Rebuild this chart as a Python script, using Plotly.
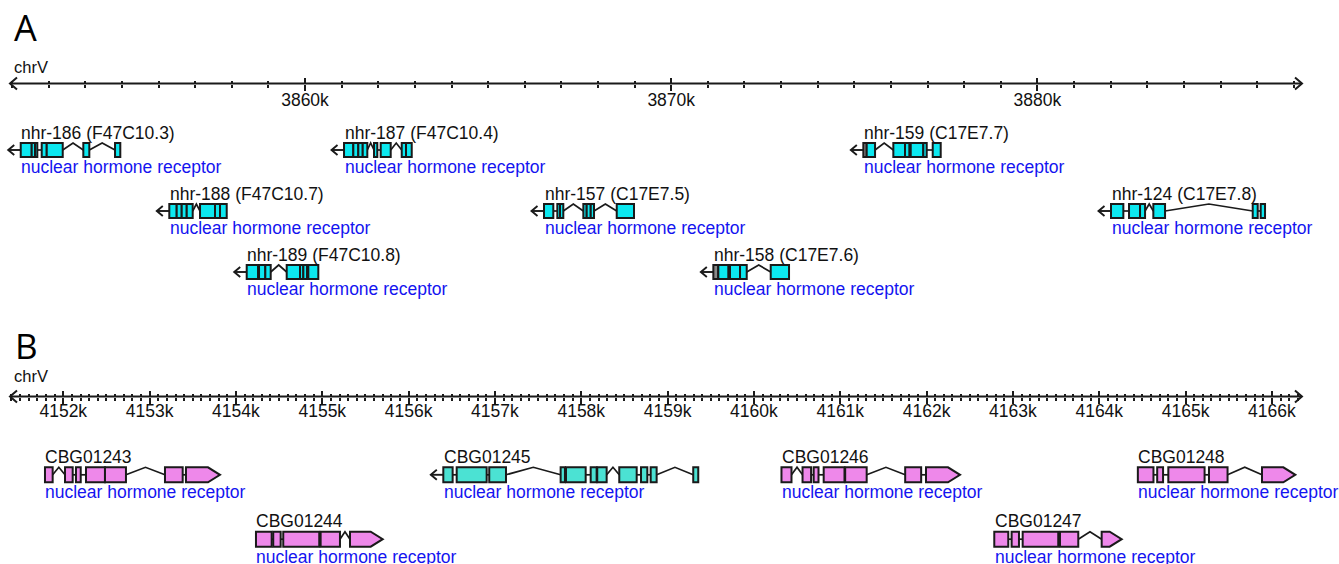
import numpy as np
import plotly.graph_objects as go

W, H = 1339, 564

# ======================= DATA =======================
# Panel A : chrV 3.85-3.89 Mb
A_region = [3851944, 3887225]
A_major_ticks = [3860000, 3870000, 3880000]
A_tick_labels = ["3860k", "3870k", "3880k"]
A_minor_step = 1000

nhr186_exons = [(3852237, 3852537), (3852537, 3852627), (3852627, 3852690), (3852810, 3852947),
                (3852947, 3853384), (3853946, 3854110), (3854812, 3854956)]
nhr187_exons = [(3861065, 3861319), (3861319, 3861455), (3861455, 3861576), (3861576, 3861701),
                (3861884, 3861974), (3862067, 3862340), (3862641, 3862758), (3862758, 3862914)]
nhr188_exons = [(3856294, 3856496), (3856496, 3856633), (3856633, 3856770), (3856770, 3856933),
                (3857133, 3857542), (3857542, 3857679), (3857679, 3857862)]
nhr189_exons = [(3858408, 3858717), (3858744, 3858916), (3858916, 3859063), (3859500, 3859863),
                (3859863, 3859954), (3859954, 3860055), (3860090, 3860363)]
nhr157_exons = [(3866526, 3866780), (3866890, 3866963), (3866963, 3867053), (3867600, 3867692),
                (3867692, 3867802), (3867802, 3867892), (3868512, 3868984)]
nhr158_exons = [(3871286, 3871559), (3871605, 3871879), (3871879, 3872062), (3872717, 3873217)]
nhr158_utr = [(3871150, 3871286)]
nhr159_exons = [(3875338, 3875566), (3876065, 3876384), (3876384, 3876502), (3876540, 3876884),
                (3876884, 3876977), (3877141, 3877359)]
nhr159_utr = [(3875246, 3875338)]
nhr124_exons = [(3882009, 3882346), (3882501, 3882802), (3882802, 3882939), (3883165, 3883485),
                (3885879, 3886015), (3886097, 3886215)]

A_names = ["nhr-186 (F47C10.3)", "nhr-187 (F47C10.4)", "nhr-159 (C17E7.7)",
           "nhr-188 (F47C10.7)", "nhr-157 (C17E7.5)", "nhr-124 (C17E7.8)",
           "nhr-189 (F47C10.8)", "nhr-158 (C17E7.6)"]
A_exons = [nhr186_exons, nhr187_exons, nhr159_exons, nhr188_exons, nhr157_exons,
           nhr124_exons, nhr189_exons, nhr158_exons]
A_utrs = [[], [], nhr159_utr, [], [], [], [], nhr158_utr]
A_rows = [0, 0, 0, 1, 1, 1, 2, 2]
A_strands = ["-", "-", "-", "-", "-", "-", "-", "-"]
A_desc = ["nuclear hormone receptor"] * 8

# Panel B : chrV 4.151-4.167 Mb
B_region = [4151383, 4166348]
B_major_ticks = [4152000, 4153000, 4154000, 4155000, 4156000, 4157000, 4158000, 4159000,
                 4160000, 4161000, 4162000, 4163000, 4164000, 4165000, 4166000]
B_tick_labels = ["4152k", "4153k", "4154k", "4155k", "4156k", "4157k", "4158k", "4159k",
                 "4160k", "4161k", "4162k", "4163k", "4164k", "4165k", "4166k"]
B_minor_step = 100

CBG01243_exons = [(4151788, 4151877), (4152020, 4152109), (4152147, 4152202), (4152263, 4152483),
                  (4152483, 4152726), (4153178, 4153383), (4153421, 4153815)]
CBG01244_exons = [(4154232, 4154414), (4154432, 4154518), (4154548, 4154965), (4154981, 4155205),
                  (4155321, 4155700)]
CBG01245_exons = [(4156402, 4156510), (4156557, 4156904), (4156934, 4157128), (4157761, 4157811),
                  (4157823, 4158051), (4158109, 4158178), (4158185, 4158294), (4158440, 4158642),
                  (4158692, 4158765), (4158804, 4158873), (4159297, 4159355)]
CBG01246_exons = [(4160319, 4160435), (4160563, 4160662), (4160692, 4160748), (4160808, 4161049),
                  (4161057, 4161306), (4161752, 4161937), (4161993, 4162387)]
CBG01247_exons = [(4162784, 4162946), (4162985, 4163070), (4163113, 4163525), (4163545, 4163757),
                  (4164028, 4164260)]
CBG01248_exons = [(4164447, 4164628), (4164671, 4164739), (4164800, 4165220), (4165271, 4165486),
                  (4165885, 4166271)]

B_names = ["CBG01243", "CBG01245", "CBG01246", "CBG01248", "CBG01244", "CBG01247"]
B_exons = [CBG01243_exons, CBG01245_exons, CBG01246_exons, CBG01248_exons,
           CBG01244_exons, CBG01247_exons]
B_utrs = [[], [], [], [], [], []]
B_rows = [0, 0, 0, 0, 1, 1]
B_strands = ["+", "-", "+", "+", "+", "+"]
B_desc = ["nuclear hormone receptor"] * 6

# ======================= STYLE / LAYOUT =======================
FONT = "Liberation Sans, Arial, Helvetica, sans-serif"
CYAN = "#0CE8F0"
GRAY = "#8a8a8a"
VIOLET = "#EE88EA"
TURQ = "#4BE2D3"
OUTLINE = "#1a1a1a"
A_colors = [CYAN] * 8
B_colors = [VIOLET, TURQ, VIOLET, VIOLET, VIOLET, VIOLET]

A_view = [3851671, 3888235]      # data values at pixel 0 and pixel W
B_view = [4151267, 4166777]
A_axis_px, B_axis_px = 83.5, 396.5
A_label_px, B_label_px = 87.0, 398.0
A_row0_px, A_row_gap = 150.0, 61.0
B_row0_px, B_row_gap = 474.8, 64.4
HAT_MIN_PX = 6.5
ARROW_PX = 12.5
POINT_PX = 12

shapes = []
annotations = []


def panel_cfg(view, row0, gap, xref, yref, box_h, name_shift, desc_shift):
    return dict(bpp=(view[1] - view[0]) / W, ypp=1.0 / gap, xref=xref, yref=yref,
                box_h=box_h, name_shift=name_shift, desc_shift=desc_shift)


PA = panel_cfg(A_view, A_row0_px, A_row_gap, "x", "y", 14, 17, -16.5)
PB = panel_cfg(B_view, B_row0_px, B_row_gap, "x2", "y2", 15, 18, -17.5)


def add_line(P, x0, y0, x1, y1, w=1.6):
    shapes.append(dict(type="line", xref=P["xref"], yref=P["yref"], x0=x0, y0=y0, x1=x1, y1=y1,
                       line=dict(color=OUTLINE, width=w), layer="above"))


def draw_gene(P, exons, utrs, row, strand, color, name, desc):
    segs = sorted([(s, e, color) for s, e in exons] + [(s, e, GRAY) for s, e in utrs])
    half = P["box_h"] / 2 * P["ypp"]
    top, bot = row - half, row + half
    # connectors (hat for visible introns, flat for tiny ones)
    for (s1, e1, _), (s2, e2, _) in zip(segs, segs[1:]):
        g = s2 - e1
        if g <= 0:
            continue
        if g / P["bpp"] > HAT_MIN_PX:
            shapes.append(dict(type="path", xref=P["xref"], yref=P["yref"],
                               path=f"M{e1},{row} L{(e1 + s2) / 2},{top} L{s2},{row}",
                               line=dict(color=OUTLINE, width=1.7), layer="above"))
        else:
            add_line(P, e1, row, s2, row, 1.7)
    # strand arrow for minus genes
    if strand == "-":
        start = segs[0][0]
        tip = start - ARROW_PX * P["bpp"]
        add_line(P, tip, row, start, row, 1.9)
        hx = tip + 6 * P["bpp"]
        hy = 5 * P["ypp"]
        shapes.append(dict(type="path", xref=P["xref"], yref=P["yref"],
                           path=f"M{hx},{row - hy} L{tip},{row} L{hx},{row + hy}",
                           line=dict(color=OUTLINE, width=1.9), layer="above"))
    # exon boxes
    for i, (s, e, c) in enumerate(segs):
        if strand == "+" and i == len(segs) - 1:
            p = min(POINT_PX * P["bpp"], (e - s))
            path = f"M{s},{top} L{e - p},{top} L{e},{row} L{e - p},{bot} L{s},{bot} Z"
            shapes.append(dict(type="path", xref=P["xref"], yref=P["yref"], path=path,
                               fillcolor=c, line=dict(color=OUTLINE, width=2), layer="above"))
        else:
            shapes.append(dict(type="rect", xref=P["xref"], yref=P["yref"], x0=s, x1=e,
                               y0=top, y1=bot, fillcolor=c,
                               line=dict(color=OUTLINE, width=2), layer="above"))
    x0 = segs[0][0]
    annotations.append(dict(x=x0, y=row, xref=P["xref"], yref=P["yref"], text=name,
                            showarrow=False, xanchor="left", yanchor="middle",
                            yshift=P["name_shift"], xshift=-1.5,
                            font=dict(family=FONT, size=17.5, color="#111111")))
    annotations.append(dict(x=x0, y=row, xref=P["xref"], yref=P["yref"], text=desc,
                            showarrow=False, xanchor="left", yanchor="middle",
                            yshift=P["desc_shift"], xshift=-1.5,
                            font=dict(family=FONT, size=17.5, color="#1414F0")))


for i in range(len(A_names)):
    draw_gene(PA, A_exons[i], A_utrs[i], A_rows[i], A_strands[i], A_colors[i], A_names[i], A_desc[i])
for i in range(len(B_names)):
    draw_gene(PB, B_exons[i], B_utrs[i], B_rows[i], B_strands[i], B_colors[i], B_names[i], B_desc[i])


# coordinate axis lines with arrowheads at both ends
def axis_line(xref, region, bpp, pos_px):
    yp = 1 - pos_px / H
    shapes.append(dict(type="line", xref=xref, yref="paper", x0=region[0], x1=region[1],
                       y0=yp, y1=yp, line=dict(color=OUTLINE, width=2)))
    dx = 7 * bpp
    dy = 6 / H
    shapes.append(dict(type="path", xref=xref, yref="paper",
                       path=f"M{region[0] + dx},{yp + dy} L{region[0]},{yp} L{region[0] + dx},{yp - dy}",
                       line=dict(color=OUTLINE, width=2)))
    shapes.append(dict(type="path", xref=xref, yref="paper",
                       path=f"M{region[1] - dx},{yp + dy} L{region[1]},{yp} L{region[1] - dx},{yp - dy}",
                       line=dict(color=OUTLINE, width=2)))


axis_line("x", A_region, PA["bpp"], A_axis_px)
axis_line("x2", B_region, PB["bpp"], B_axis_px)

# panel letters and chromosome labels
for txt, px, py, size in [("A", 12, 28, 36), ("B", 13, 345, 35)]:
    annotations.append(dict(x=px / W, y=1 - py / H, xref="paper", yref="paper", text=txt,
                            showarrow=False, xanchor="left", yanchor="middle",
                            font=dict(family="Open Sans, Liberation Sans, sans-serif", size=size,
                                      color="#000000")))
for py in [66.5, 376]:
    annotations.append(dict(x=12 / W, y=1 - py / H, xref="paper", yref="paper", text="chrV",
                            showarrow=False, xanchor="left", yanchor="middle",
                            font=dict(family=FONT, size=16.5, color="#111111")))


def minor_vals(region, step):
    first = int(np.ceil(region[0] / step) * step)
    return list(range(first, int(region[1]) + 1, step))


def tick_axis(view, region, tickvals, ticktext, minor_step, pos_px, mode):
    ax = dict(domain=[0, 1], range=view, anchor="free", position=1 - pos_px / H,
              showline=False, zeroline=False, showgrid=False,
              tickmode="array", tickvals=tickvals, ticktext=ticktext,
              tickwidth=1.6, tickcolor=OUTLINE, fixedrange=True,
              tickfont=dict(family=FONT, size=17.5, color="#111111"))
    if mode == "labels":
        ax.update(ticks="", showticklabels=True)
    else:
        ax.update(ticks=mode, ticklen=6, showticklabels=False,
                  minor=dict(ticks=mode, ticklen=3, tickwidth=1.5, tickcolor=OUTLINE,
                             tickmode="array", tickvals=minor_vals(region, minor_step),
                             showgrid=False))
    return ax


axes = {}
axes["xaxis"] = tick_axis(A_view, A_region, A_major_ticks, A_tick_labels, A_minor_step, A_axis_px, "outside")
axes["xaxis2"] = tick_axis(B_view, B_region, B_major_ticks, B_tick_labels, B_minor_step, B_axis_px, "outside")
axes["xaxis3"] = tick_axis(A_view, A_region, A_major_ticks, A_tick_labels, A_minor_step, A_axis_px, "inside")
axes["xaxis4"] = tick_axis(B_view, B_region, B_major_ticks, B_tick_labels, B_minor_step, B_axis_px, "inside")
axes["xaxis5"] = tick_axis(A_view, A_region, A_major_ticks, A_tick_labels, A_minor_step, A_label_px, "labels")
axes["xaxis6"] = tick_axis(B_view, B_region, B_major_ticks, B_tick_labels, B_minor_step, B_label_px, "labels")
for k in ["xaxis2", "xaxis3", "xaxis4", "xaxis5", "xaxis6"]:
    axes[k]["overlaying"] = "x"

ya = dict(domain=[0, 1], range=[(H - A_row0_px) / A_row_gap, -A_row0_px / A_row_gap], visible=False,
          fixedrange=True)
yb = dict(domain=[0, 1], range=[(H - B_row0_px) / B_row_gap, -B_row0_px / B_row_gap], visible=False,
          overlaying="y", fixedrange=True)

fig = go.Figure()
for xr, yr in [("x", "y"), ("x2", "y2"), ("x3", "y"), ("x4", "y2"), ("x5", "y"), ("x6", "y2")]:
    fig.add_trace(go.Scatter(x=[None], y=[None], xaxis=xr, yaxis=yr, mode="markers",
                             showlegend=False, hoverinfo="skip"))

fig.update_layout(width=W, height=H, margin=dict(l=0, r=0, t=0, b=0),
                  paper_bgcolor="white", plot_bgcolor="white",
                  yaxis=ya, yaxis2=yb,
                  shapes=shapes, annotations=annotations, showlegend=False, **axes)

fig.write_html("out.html")
